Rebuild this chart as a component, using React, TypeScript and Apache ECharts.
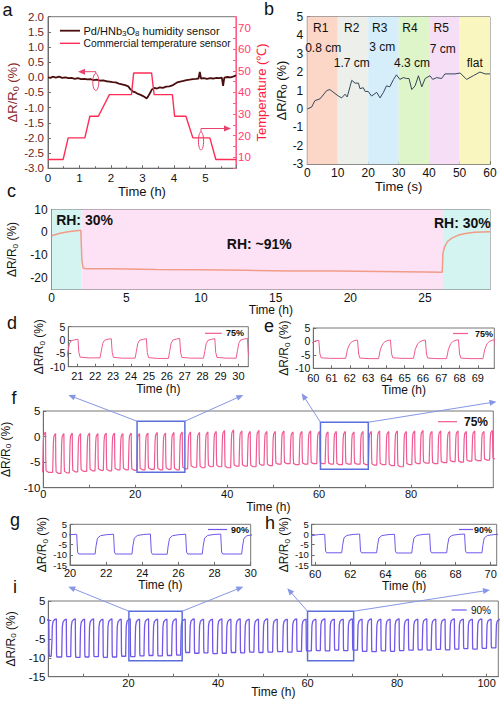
import React, { useEffect, useRef } from "react";
import * as echarts from "echarts";

const FONT = "'Liberation Sans', Arial, Helvetica, sans-serif";

// ---------------- Panel a ----------------
const A_HUM_T = [0, 0.08, 0.15, 0.25, 0.35, 0.45, 0.55, 0.65, 0.75, 0.85, 0.95, 1.05, 1.15, 1.25, 1.35, 1.45, 1.55, 1.65, 1.75, 1.85, 1.95, 2.05, 2.15, 2.25, 2.35, 2.45, 2.55, 2.62, 2.7, 2.78, 2.86, 2.94, 3.02, 3.08, 3.13, 3.18, 3.24, 3.3, 3.38, 3.46, 3.55, 3.65, 3.75, 3.85, 3.95, 4.02, 4.1, 4.2, 4.3, 4.4, 4.5, 4.6, 4.7, 4.78, 4.82, 4.86, 4.95, 5.05, 5.15, 5.25, 5.35, 5.45, 5.52, 5.56, 5.6, 5.7, 5.8, 5.9, 5.97];
const A_HUM_V = [0.0, -0.02, 0.02, -0.01, 0.02, -0.02, 0.0, -0.03, -0.02, -0.05, -0.03, -0.06, -0.05, -0.07, -0.06, -0.09, -0.08, -0.11, -0.1, -0.13, -0.14, -0.16, -0.17, -0.21, -0.23, -0.26, -0.3, -0.4, -0.47, -0.5, -0.55, -0.58, -0.62, -0.66, -0.7, -0.63, -0.52, -0.4, -0.35, -0.37, -0.33, -0.35, -0.31, -0.3, -0.27, -0.22, -0.17, -0.14, -0.12, -0.09, -0.08, -0.06, -0.05, -0.04, 0.18, -0.04, -0.03, -0.05, -0.03, -0.04, -0.02, -0.03, -0.01, -0.28, -0.01, 0.01, 0.0, 0.03, 0.07];
const A_TEMP_T = [0, 0.48, 0.64, 1.17, 1.33, 1.6, 1.95, 2.65, 2.72, 3.29, 3.37, 3.95, 4.02, 4.38, 4.6, 5.14, 5.33, 5.97];
const A_TEMP_V = [9, 9, 19, 19, 29, 29, 39, 39, 49, 49, 39, 39, 29, 29, 19, 19, 9, 9];

// ---------------- Panel b ----------------
const B_T = [0, 1.4, 2.5, 4.2, 6.4, 7.4, 10.2, 11.3, 12.4, 13.1, 14.6, 15.7, 16.8, 17.3, 18.4, 19, 20, 21.1, 22.8, 23.9, 25, 26, 27.1, 28.3, 29.3, 30.4, 31.5, 32.6, 33.4, 34.3, 35.4, 36.5, 37.6, 38.7, 40.3, 41.2, 42.5, 44.1, 45.2, 46.9, 48.5, 50.2, 52.3, 54.5, 56.7, 58.4, 60];
const B_V = [0, 0.1, 0.45, 0.55, 1.0, 1.05, 0.7, 0.6, 0.8, 0.65, 1.55, 1.4, 1.4, 1.1, 1.15, 0.95, 0.95, 0.7, 0.9, 0.6, 0.9, 1.25, 1.2, 1.6, 1.85, 1.6, 1.7, 1.65, 1.65, 1.05, 1.25, 1.8, 1.2, 1.65, 1.8, 1.6, 1.7, 1.65, 1.9, 1.9, 1.9, 1.95, 1.6, 1.8, 2.0, 1.9, 1.9];
const B_BAND_EDGES = [0, 10, 20, 30, 40, 50, 60];
const B_BAND_COLORS = ["#fcd6c6", "#ecefea", "#d6eefa", "#def4c9", "#f6def7", "#faf6bf"];
const B_REGION = ["R1", "R2", "R3", "R4", "R5"];
const B_REGION_X = [4.4, 14.6, 23.8, 33.7, 44.0];
const B_REGION_Y = [4.37, 4.37, 4.37, 4.37, 4.37];
const B_SIZE = ["0.8 cm", "1.7 cm", "3 cm", "4.3 cm", "7 cm", "flat"];
const B_SIZE_X = [5.2, 14.6, 24.6, 34.4, 44.5, 55.0];
const B_SIZE_Y = [3.29, 2.47, 3.37, 2.5, 3.23, 2.47];

// ---------------- Panel c ----------------
const C_T = [0, 0.5, 1.0, 1.5, 1.95, 2.02, 2.1, 2.3, 4, 7, 10, 13, 16, 19, 22, 25, 26.15, 26.2, 26.3, 26.5, 26.8, 27.2, 27.7, 28.3, 29.35];
const C_V = [-1.5, -0.5, 0.2, 0.6, 0.9, -12, -15.6, -15.9, -15.9, -16.2, -16.4, -16.6, -16.9, -16.9, -17.1, -17.3, -17.4, -9, -6.5, -4, -2.5, -1.3, -0.5, 0, 0.3];
const C_BANDS = [[0, 2.0], [2.0, 26.2], [26.2, 29.35]];
const C_BAND_COLORS = ["#d3f4f1", "#fde2f6", "#d3f4f1"];
const C_LABELS = ["RH: 30%", "RH: ~91%", "RH: 30%"];
const C_LABEL_X = [2.2, 13.9, 27.5];
const C_LABEL_Y = [5.2, -5.3, 4.2];

// ---------------- cycle shapes (offset from the drop, fraction low->high) ----------------
const SHAPE75_OFF = [-0.65, -0.58, -0.5, -0.4, -0.2, -0.02, 0.03, 0.1, 0.6];
const SHAPE75_FRAC = [0, 0.35, 0.75, 0.92, 0.97, 1, 0.3, 0.04, 0];
const SHAPE75R_OFF = [-0.68, -0.58, -0.45, -0.32, -0.17, -0.03, 0.03, 0.1, 0.6];
const SHAPE75R_FRAC = [0, 0.5, 0.8, 0.92, 0.98, 1, 0.25, 0.03, 0];
const SHAPE90_OFF = [-1.05, -1.0, -0.92, -0.75, -0.4, -0.03, 0.02, 0.08, 0.5];
const SHAPE90_FRAC = [0, 0.4, 0.8, 0.93, 0.98, 1, 0.1, 0, 0];

// ---------------- Panel d (75%, 20.5-30.5 h) ----------------
const D_DROP = [21.06, 22.92, 24.88, 26.74, 28.7, 30.52];
const D_LOW = [-6.7, -6.8, -6.9, -6.8, -6.8, -6.9];
const D_HIGH = [0.3, 0.5, 0.5, 0.6, 0.5, 0.6];

// ---------------- Panel e (75%, 60-70 h) ----------------
const E_DROP = [60.33, 62.45, 64.25, 66.16, 67.97, 69.96];
const E_LOW = [-6.3, -6.4, -6.3, -6.4, -6.4, -6.4];
const E_HIGH = [0.4, 0.5, 0.5, 0.5, 0.6, 0.6];

// ---------------- Panel f (75%, long run) ----------------
const F_DROP = [0.51, 2.69, 4.5, 6.32, 8.13, 10.09, 11.9, 13.71, 15.52, 17.34, 19.15, 20.97, 22.78, 24.81, 26.62, 28.44, 30.25, 32.06, 34.02, 35.83, 37.64, 39.46, 41.42, 43.23, 45.04, 46.93, 48.67, 50.5, 52.38, 54.34, 56.3, 58.19, 60.15, 61.96, 63.77, 65.73, 67.62, 69.58, 71.39, 73.2, 75.17, 77.05, 79.0, 80.82, 82.63, 84.59, 86.48, 88.44, 90.25, 92.06, 93.88, 95.9, 97.75];
const F_LOW = [-7.0, -7.2, -7.1, -6.9, -6.8, -6.7, -6.6, -6.7, -6.5, -6.5, -6.6, -6.5, -6.4, -6.5, -6.4, -6.5, -6.3, -6.0, -6.1, -5.9, -5.9, -6.1, -5.8, -5.8, -5.9, -5.6, -5.7, -5.4, -5.3, -5.5, -5.4, -5.3, -5.3, -5.4, -5.5, -5.4, -5.4, -5.5, -5.6, -5.5, -5.7, -5.9, -5.5, -5.3, -5.2, -5.3, -5.1, -4.9, -5.0, -4.8, -4.7, -4.6, -4.4];
const F_HIGH = [0.9, 0.6, 0.6, 0.7, 0.6, 0.7, 0.6, 0.7, 0.7, 0.6, 0.7, 0.6, 0.7, 0.8, 0.7, 0.8, 0.9, 0.9, 0.8, 0.9, 1.0, 1.2, 1.3, 1.1, 1.0, 1.2, 1.0, 1.0, 1.1, 0.9, 1.0, 1.1, 1.0, 0.9, 1.0, 1.0, 0.9, 1.0, 1.0, 1.1, 1.0, 1.1, 1.0, 1.1, 1.2, 1.0, 1.1, 1.0, 1.1, 1.0, 1.1, 1.0, 1.2];
const F_BOX_X = [[20.4, 30.8], [60.3, 70.7]];
const F_BOX_Y = [[3.0, -7.0], [2.8, -6.4]];

// ---------------- Panel g (90%, 20-30 h) ----------------
const G_DROP = [20.4, 22.44, 24.48, 26.43, 28.37, 30.55];
const G_LOW = [-9.6, -9.6, -9.7, -9.6, -9.6, -9.6];
const G_HIGH = [0.1, 0.1, 0.2, 0.1, 0.2, 0.1];

// ---------------- Panel h (90%, 60-70 h) ----------------
const H_DROP = [60.57, 62.56, 64.55, 66.55, 68.54, 70.55];
const H_LOW = [-9.0, -9.0, -9.1, -9.0, -9.0, -9.0];
const H_HIGH = [0.1, 0.2, 0.1, 0.2, 0.2, 0.1];

// ---------------- Panel i (90%, long run) ----------------
const I_DROP = [2.25, 3.92, 6.15, 8.16, 10.23, 12.24, 14.34, 16.35, 18.42, 20.43, 22.51, 24.52, 26.53, 28.63, 30.7, 32.71, 34.72, 36.8, 38.8, 40.9, 42.91, 44.99, 47.0, 49.07, 51.1, 53.25, 55.5, 57.6, 59.7, 61.9, 63.9, 66.0, 68.0, 70.05, 72.2, 74.3, 76.4, 78.47, 80.48, 82.55, 84.65, 86.66, 88.67, 90.74, 92.82, 94.83, 96.84, 98.94, 101.01, 103.1];
const I_LOW = [-9.6, -9.8, -9.7, -9.9, -9.8, -9.7, -9.9, -9.8, -9.6, -9.7, -9.5, -9.4, -9.5, -9.4, -9.3, -8.6, -8.8, -8.7, -8.9, -8.8, -8.6, -8.7, -8.5, -8.6, -8.5, -8.4, -8.5, -8.3, -8.2, -8.1, -8.2, -8.0, -8.1, -8.0, -8.3, -8.4, -8.2, -8.3, -8.1, -8.0, -7.9, -8.0, -7.8, -7.9, -7.7, -7.6, -7.7, -7.5, -7.4, -7.4];
const I_HIGH = [0.2, 0.3, 0.2, 0.3, 0.2, 0.3, 0.2, 0.3, 0.2, 0.3, 0.2, 0.3, 0.2, 0.2, 0.3, 0.2, 0.3, 0.2, 0.2, 0.3, 0.2, 0.3, 0.2, 0.2, 0.3, 0.2, 0.2, 0.3, 0.2, 0.2, 0.3, 0.2, 0.2, 0.3, 0.2, 0.3, 0.2, 0.2, 0.3, 0.2, 0.2, 0.3, 0.2, 0.2, 0.3, 0.2, 0.2, 0.3, 0.2, 0.2];
const I_BOX_X = [[20.1, 32.0], [60.0, 70.3]];
const I_BOX_Y = [[2.3, -10.8], [2.3, -10.8]];

// ---------------- styling ----------------
const AX = "#6d6d6d";
const PINK = "#ef5a93";
const PURPLE = "#7357ea";
const BOXBLUE = "#5b6fdc";
const ARROWBLUE = "#8796e6";
const BROWN = "#4a0e0e";
const TEMP = "#ff2d55";

function zip(t: number[], v: number[]) {
  return t.map((x, i) => [x, v[i]]);
}

function buildWave(drops: number[], lows: number[], highs: number[], off: number[], frac: number[]) {
  const pts: number[][] = [];
  for (let k = 0; k < drops.length; k++) {
    const prevLow = lows[k > 0 ? k - 1 : 0];
    for (let j = 0; j < off.length; j++) {
      const base = off[j] > 0 ? lows[k] : prevLow;
      pts.push([drops[k] + off[j], base + frac[j] * (highs[k] - base)]);
    }
  }
  return pts;
}

const Y_NAME = "{n|ΔR/R}{s|0}{n| (%)}";
function nameRich(color: string, size: number) {
  return {
    n: { fontSize: size, fontFamily: FONT, color, lineHeight: size + 2 },
    s: { fontSize: Math.round(size * 0.7), fontFamily: FONT, color, verticalAlign: "bottom", lineHeight: Math.round(size * 0.5) },
  };
}

function ax(o: any) {
  const base: any = {
    type: "value",
    axisLine: { show: true, onZero: false, lineStyle: { color: AX, width: 1 } },
    axisTick: { show: true, inside: true, length: 3, lineStyle: { color: AX } },
    splitLine: { show: false },
    axisLabel: { fontSize: 11, fontFamily: FONT, color: "#111", margin: 3, hideOverlap: false },
    nameLocation: "middle",
    nameTextStyle: { fontSize: 12, fontFamily: FONT, color: "#111" },
  };
  return {
    ...base,
    ...o,
    axisLine: { ...base.axisLine, ...(o.axisLine || {}) },
    axisTick: { ...base.axisTick, ...(o.axisTick || {}) },
    axisLabel: { ...base.axisLabel, ...(o.axisLabel || {}) },
    nameTextStyle: { ...base.nameTextStyle, ...(o.nameTextStyle || {}) },
  };
}

function yAx(o: any, size = 12, color = "#111") {
  return ax({ name: Y_NAME, nameTextStyle: { rich: nameRich(color, size) }, ...o });
}

const GRID = (left: number, top: number, width: number, height: number) => ({
  left, top, width, height, show: true, borderColor: "#777", borderWidth: 1, backgroundColor: "transparent", containLabel: false, outerBoundsMode: "none",
});

const SMALL_Y = { fontSize: 9.5, lineHeight: 9, margin: 3, showMinLabel: true, showMaxLabel: true };

function buildOption() {
  const grids = [
    GRID(48, 16.7, 188, 151.5), // a
    GRID(307.3, 16.7, 182.7, 147.6), // b
    GRID(51.7, 209.5, 438.3, 80), // c
    GRID(68.3, 326.7, 180, 40), // d
    GRID(313.3, 328, 181, 40.3), // e
    GRID(43.3, 411, 450, 76.7), // f
    GRID(70, 524.3, 180.7, 40.7), // g
    GRID(311.7, 524.3, 185, 40.7), // h
    GRID(48.3, 601, 450, 75.7), // i
  ];
  const timeName = { name: "Time (h)" };
  const xAxis = [
    ax({ gridIndex: 0, min: 0, max: 5.97, interval: 1, ...timeName, nameGap: 17, nameTextStyle: { fontSize: 13 }, axisLabel: { fontSize: 11.5, showMaxLabel: false, margin: 4 }, minorTick: { show: true, splitNumber: 2, length: 2, lineStyle: { color: AX } } }),
    ax({ gridIndex: 1, min: 0, max: 60, interval: 10, name: "Time (s)", nameGap: 16, nameTextStyle: { fontSize: 13 }, axisLabel: { fontSize: 12, margin: 3 } }),
    ax({ gridIndex: 2, min: 0, max: 29.35, interval: 5, ...timeName, nameGap: 14, axisLabel: { fontSize: 12, showMaxLabel: false, margin: 2 } }),
    ax({ gridIndex: 3, min: 20.5, max: 30.55, ...timeName, nameGap: 13, axisLabel: { customValues: [21, 22, 23, 24, 25, 26, 27, 28, 29, 30], margin: 4 }, axisTick: { customValues: [21, 22, 23, 24, 25, 26, 27, 28, 29, 30] } }),
    ax({ gridIndex: 4, min: 60, max: 69.9, interval: 1, ...timeName, nameGap: 16, axisLabel: { showMaxLabel: false, margin: 4 } }),
    ax({ gridIndex: 5, min: 0, max: 97.9, interval: 10, ...timeName, nameGap: 12, axisLabel: { showMaxLabel: false, margin: 1, formatter: (v: number) => (v % 20 === 0 ? String(v) : "") } }),
    ax({ gridIndex: 6, min: 20, max: 30, interval: 2, ...timeName, nameGap: 13, axisLabel: { margin: 2 } }),
    ax({ gridIndex: 7, min: 59.8, max: 70.34, ...timeName, nameGap: 15, axisLabel: { customValues: [60, 62, 64, 66, 68, 70], margin: 3 }, axisTick: { customValues: [60, 62, 64, 66, 68, 70] } }),
    ax({ gridIndex: 8, min: 2.1, max: 102.6, ...timeName, nameGap: 9, nameMoveOverlap: false, axisLabel: { customValues: [20, 40, 60, 80, 100], margin: 1 }, axisTick: { customValues: [10, 20, 30, 40, 50, 60, 70, 80, 90, 100] } }),
  ];
  const yAxis = [
    yAx({ gridIndex: 0, min: -3, max: 2, interval: 0.5, nameGap: 27, axisLabel: { fontSize: 11.5, color: "#6b1d1d", formatter: (v: number) => v.toFixed(1), margin: 4, showMinLabel: true, showMaxLabel: true } }, 13, "#8a2b2b"),
    ax({ gridIndex: 0, position: "right", min: 5, max: 75, interval: 5, name: "Temperature (℃)", nameGap: 11, nameTextStyle: { fontSize: 13, color: "#ff2040" }, axisLine: { lineStyle: { color: "#ff5c8a", width: 1 } }, axisTick: { lineStyle: { color: "#ff5c8a" } }, axisLabel: { fontSize: 11.5, color: "#ff3b6e", margin: 2, formatter: (v: number) => (v % 10 === 0 ? String(v) : "") } }),
    yAx({ gridIndex: 1, min: -3, max: 5, interval: 1, nameGap: 9, axisLabel: { fontSize: 12, margin: 4, showMinLabel: true, showMaxLabel: true } }, 13),
    yAx({ gridIndex: 2, min: -25, max: 10, interval: 5, nameGap: 13, axisLabel: { fontSize: 12, margin: 4, showMaxLabel: true, formatter: (v: number) => (v % 10 === 0 ? String(v) : "") } }, 12),
    yAx({ gridIndex: 3, min: -10, max: 5, interval: 5, nameGap: 20, axisLabel: { fontSize: 10.5, lineHeight: 10, margin: 3, showMinLabel: true, showMaxLabel: true } }, 12),
    yAx({ gridIndex: 4, min: -10, max: 5, interval: 5, nameGap: 18, axisLabel: { fontSize: 10.5, lineHeight: 10, margin: 3, showMinLabel: true, showMaxLabel: true } }, 12),
    yAx({ gridIndex: 5, min: -10, max: 5, interval: 5, nameGap: 8, axisLabel: { fontSize: 11.5, margin: 3, showMinLabel: true, showMaxLabel: true } }, 12),
    yAx({ gridIndex: 6, min: -15, max: 5, interval: 5, nameGap: 20, axisLabel: SMALL_Y }, 12),
    yAx({ gridIndex: 7, min: -15, max: 5, interval: 5, nameGap: 15, axisLabel: SMALL_Y }, 12),
    yAx({ gridIndex: 8, min: -15, max: 5, interval: 5, nameGap: 10, axisLabel: { fontSize: 11.5, margin: 3, showMinLabel: true, showMaxLabel: true } }, 12),
  ];

  const line = (xi: number, yi: number, data: any, color: string, width: number, extra: any = {}) => ({
    type: "line", xAxisIndex: xi, yAxisIndex: yi, data, showSymbol: false, symbol: "none",
    lineStyle: { color, width }, itemStyle: { color }, clip: true, silent: true, z: 3, ...extra,
  });

  const boxArea = (xs: number[][], ys: number[][]) => ({
    silent: true,
    itemStyle: { color: "rgba(0,0,0,0)", borderColor: BOXBLUE, borderWidth: 1.5 },
    label: { show: false },
    data: xs.map((x, i) => [{ xAxis: x[0], yAxis: ys[i][0] }, { xAxis: x[1], yAxis: ys[i][1] }]),
    z: 5,
  });

  const series = [
    line(0, 0, zip(A_HUM_T, A_HUM_V), BROWN, 1.8),
    line(0, 1, zip(A_TEMP_T, A_TEMP_V), TEMP, 1.4),
    line(1, 2, zip(B_T, B_V), "#34475a", 1, {
      markArea: {
        silent: true, label: { show: false },
        data: B_BAND_COLORS.map((c, i) => [{ xAxis: B_BAND_EDGES[i], itemStyle: { color: c } }, { xAxis: B_BAND_EDGES[i + 1] }]),
      },
    }),
    line(2, 3, zip(C_T, C_V), "#f09c88", 1.5, {
      markArea: {
        silent: true, label: { show: false },
        data: C_BANDS.map((b, i) => [{ xAxis: b[0], itemStyle: { color: C_BAND_COLORS[i] } }, { xAxis: b[1] }]),
      },
    }),
    line(3, 4, buildWave(D_DROP, D_LOW, D_HIGH, SHAPE75_OFF, SHAPE75_FRAC), PINK, 1),
    line(4, 5, buildWave(E_DROP, E_LOW, E_HIGH, SHAPE75R_OFF, SHAPE75R_FRAC), PINK, 1),
    line(5, 6, buildWave(F_DROP, F_LOW, F_HIGH, SHAPE75_OFF, SHAPE75_FRAC), PINK, 1.2, { markArea: boxArea(F_BOX_X, F_BOX_Y) }),
    line(6, 7, buildWave(G_DROP, G_LOW, G_HIGH, SHAPE90_OFF, SHAPE90_FRAC), PURPLE, 1),
    line(7, 8, buildWave(H_DROP, H_LOW, H_HIGH, SHAPE90_OFF, SHAPE90_FRAC), PURPLE, 1),
    line(8, 9, buildWave(I_DROP, I_LOW, I_HIGH, SHAPE90_OFF, SHAPE90_FRAC), PURPLE, 1.3, { markArea: boxArea(I_BOX_X, I_BOX_Y) }),
  ];

  return { animation: false, backgroundColor: "#fff", textStyle: { fontFamily: FONT }, grid: grids, xAxis, yAxis, series };
}

function txt(text: string, x: number, y: number, o: any = {}) {
  return {
    type: "text", silent: true, z: 100,
    style: { text, x, y, fill: "#111", fontSize: 12, fontFamily: FONT, align: "left", verticalAlign: "middle", ...o },
  };
}
function seg(x1: number, y1: number, x2: number, y2: number, color: string, w = 1) {
  return { type: "line", silent: true, z: 100, shape: { x1, y1, x2, y2 }, style: { stroke: color, lineWidth: w } };
}
function head(x: number, y: number, dx: number, dy: number, color: string, len = 7, w = 3) {
  const bx = x - dx * len, by = y - dy * len;
  const px = -dy * w, py = dx * w;
  return { type: "polygon", silent: true, z: 100, shape: { points: [[x, y], [bx + px, by + py], [bx - px, by - py]] }, style: { fill: color } };
}
function arrow(x1: number, y1: number, x2: number, y2: number, color: string, w = 1) {
  const L = Math.hypot(x2 - x1, y2 - y1);
  const dx = (x2 - x1) / L, dy = (y2 - y1) / L;
  return [seg(x1, y1, x2 - dx * 5, y2 - dy * 5, color, w), head(x2, y2, dx, dy, color)];
}

export default function App() {
  const ref = useRef<HTMLDivElement>(null);
  useEffect(() => {
    const chart = echarts.init(ref.current!, null, { renderer: "svg", width: 500, height: 701 });
    chart.setOption(buildOption() as any);
    const px = (si: number, v: number[]) => chart.convertToPixel({ seriesIndex: si }, v) as number[];

    const g: any[] = [];
    // panel letters
    const letters: [string, number, number][] = [["a", 7.5, 10], ["b", 269, 9], ["c", 11.5, 191], ["d", 12, 323], ["e", 269, 326], ["f", 14, 398], ["g", 15, 520], ["h", 270, 523], ["i", 15, 587]];
    letters.forEach(([t, x, y]) => g.push(txt(t, x, y, { fontSize: 18, align: "center" })));

    // panel a legend
    g.push(seg(60, 30.7, 80, 30.7, BROWN, 1.8));
    g.push({
      type: "text", silent: true, z: 100,
      style: {
        text: "{n|Pd/HNb}{s|3}{n|O}{s|8}{n| humidity sensor}", x: 83.5, y: 31, verticalAlign: "middle",
        rich: {
          n: { fontSize: 11, fontFamily: FONT, fill: "#111", lineHeight: 13 },
          s: { fontSize: 8, fontFamily: FONT, fill: "#111", verticalAlign: "bottom", lineHeight: 6 },
        },
      },
    });
    g.push(seg(60, 43.3, 80, 43.3, TEMP, 1.4));
    g.push(txt("Commercial temperature sensor", 83.5, 43.5, { fontSize: 10.3 }));
    // panel a ellipses & arrows
    const AR = "#e8436e";
    g.push({ type: "ellipse", silent: true, z: 100, shape: { cx: 95.8, cy: 82, rx: 3, ry: 8.5 }, style: { fill: "none", stroke: AR, lineWidth: 1 } });
    g.push({ type: "polyline", silent: true, z: 100, shape: { points: [[95.8, 73.5], [95.8, 71.7], [83, 71.7]] }, style: { stroke: AR, lineWidth: 1, fill: "none" } });
    g.push(head(78, 71.7, -1, 0, AR));
    g.push({ type: "ellipse", silent: true, z: 100, shape: { cx: 201, cy: 141, rx: 2.6, ry: 9 }, style: { fill: "none", stroke: AR, lineWidth: 1 } });
    g.push({ type: "polyline", silent: true, z: 100, shape: { points: [[201, 132], [201, 128.5], [225, 128.5]] }, style: { stroke: AR, lineWidth: 1, fill: "none" } });
    g.push(head(231, 128.5, 1, 0, AR));

    // panel b labels
    B_REGION.forEach((t, i) => {
      const p = px(2, [B_REGION_X[i], B_REGION_Y[i]]);
      g.push(txt(t, p[0], p[1], { align: "center", fontSize: 12 }));
    });
    B_SIZE.forEach((t, i) => {
      const p = px(2, [B_SIZE_X[i], B_SIZE_Y[i]]);
      g.push(txt(t, p[0], p[1], { align: "center", fontSize: 12 }));
    });

    // panel c labels
    C_LABELS.forEach((t, i) => {
      const p = px(3, [C_LABEL_X[i], C_LABEL_Y[i]]);
      g.push(txt(t, p[0], p[1], { align: "center", fontSize: 14, fontWeight: "bold" }));
    });

    // inset legends
    const leg = (x1: number, x2: number, y: number, color: string, label: string, tx: number, size: number, bold: boolean) => {
      g.push(seg(x1, y, x2, y, color, 1.2));
      g.push(txt(label, tx, y, { fontSize: size, fontWeight: bold ? "bold" : "normal" }));
    };
    leg(205, 221.7, 333.3, PINK, "75%", 226, 9, true);
    leg(453, 468, 333.5, PINK, "75%", 475, 9, true);
    leg(438, 457, 421.7, PINK, "75%", 464, 12, true);
    leg(208, 227, 529.5, PURPLE, "90%", 231, 9, true);
    leg(459, 473, 529.5, PURPLE, "90%", 474, 9, true);
    leg(451.7, 466.7, 610, PURPLE, "90%", 471, 10, false);

    // zoom arrows f
    const f1 = px(6, [F_BOX_X[0][0], F_BOX_Y[0][0]]);
    const f2 = px(6, [F_BOX_X[0][1], F_BOX_Y[0][0]]);
    const f3 = px(6, [F_BOX_X[1][0], F_BOX_Y[1][0]]);
    const f4 = px(6, [F_BOX_X[1][1], F_BOX_Y[1][0]]);
    g.push(...arrow(f1[0], f1[1], 68.3, 395, ARROWBLUE));
    g.push(...arrow(f2[0], f2[1], 243.3, 395, ARROWBLUE));
    g.push(...arrow(f3[0], f3[1], 301.7, 393.3, ARROWBLUE));
    g.push(...arrow(f4[0], f4[1], 496.5, 401.7, ARROWBLUE));
    // zoom arrows i
    const i1 = px(9, [I_BOX_X[0][0], I_BOX_Y[0][0]]);
    const i2 = px(9, [I_BOX_X[0][1], I_BOX_Y[0][0]]);
    const i3 = px(9, [I_BOX_X[1][0], I_BOX_Y[1][0]]);
    const i4 = px(9, [I_BOX_X[1][1], I_BOX_Y[1][0]]);
    g.push(...arrow(i1[0], i1[1], 68.3, 586.7, ARROWBLUE));
    g.push(...arrow(i2[0], i2[1], 243.3, 586.7, ARROWBLUE));
    g.push(...arrow(i3[0], i3[1], 287.3, 588.3, ARROWBLUE));
    g.push(...arrow(i4[0], i4[1], 490, 590, ARROWBLUE));

    chart.setOption({ graphic: g } as any);
    return () => chart.dispose();
  }, []);
  return <div ref={ref} style={{ position: "absolute", left: 0, top: 0, width: 500, height: 701 }} />;
}
